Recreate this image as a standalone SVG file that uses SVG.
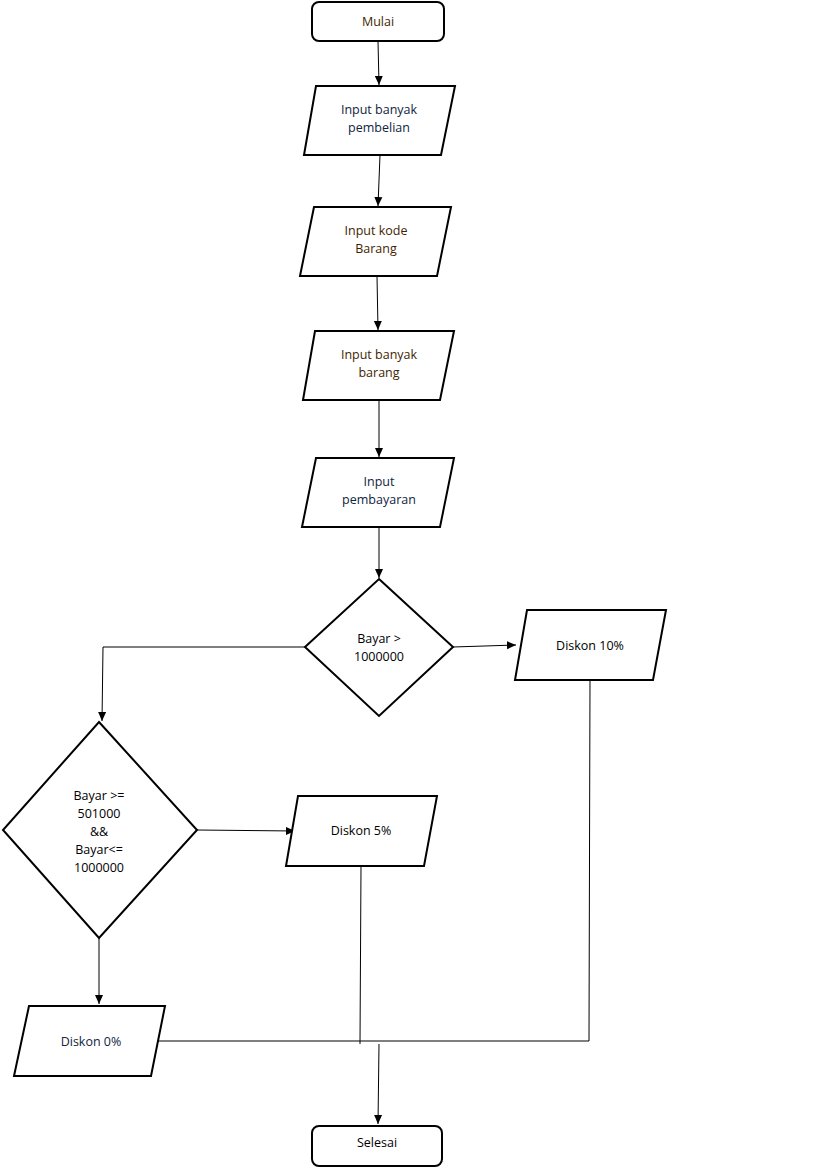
<svg xmlns="http://www.w3.org/2000/svg" width="819" height="1167" viewBox="0 0 819 1167">
<style>
.s{fill:#fff;stroke:#000;stroke-width:2}
.c{fill:none;stroke:#000;stroke-width:1}
text{font-family:"Open Sans","DejaVu Sans",sans-serif;font-size:12.5px;text-anchor:middle}
.b{fill:#0f243e}.r{fill:#3f1f00}.k{fill:#000}
</style>
<defs><marker id="a" markerWidth="10" markerHeight="10" refX="9" refY="5" orient="auto" markerUnits="userSpaceOnUse"><path d="M0,1 L9,5 L0,9 Z" fill="#000"/></marker></defs>
<rect width="819" height="1167" fill="#fff"/>
<g id="connectors">
<path class="c" d="M378,41 L379,85" marker-end="url(#a)"/>
<path class="c" d="M380,155 L378,206" marker-end="url(#a)"/>
<path class="c" d="M377,276 L378,330" marker-end="url(#a)"/>
<path class="c" d="M379,400 L379,457" marker-end="url(#a)"/>
<path class="c" d="M379,527 L379,578" marker-end="url(#a)"/>
<path class="c" d="M453,647 L516,645" marker-end="url(#a)"/>
<path class="c" d="M305,647 L103,647 L102,721" marker-end="url(#a)"/>
<path class="c" d="M197,830 L295,831" marker-end="url(#a)"/>
<path class="c" d="M99,938 L99,1004" marker-end="url(#a)"/>
<path class="c" d="M159,1041 L589,1041 L590,680"/>
<path class="c" d="M361,866 L360,1044"/>
<path class="c" d="M379,1044 L378,1124" marker-end="url(#a)"/>
</g>
<g id="mulai"><rect class="s" x="312" y="2" width="132" height="39" rx="7"/><text class="r" x="378" y="26">Mulai</text></g>
<g id="p1"><polygon class="s" points="316,86 455,86 441,155 304,155"/><text class="b" x="379" y="114">Input banyak</text><text class="b" x="379" y="132">pembelian</text></g>
<g id="p2"><polygon class="s" points="314,207 451,207 437,276 300,276"/><text class="r" x="376" y="235">Input kode</text><text class="r" x="376" y="253">Barang</text></g>
<g id="p3"><polygon class="s" points="315,331 454,331 440,400 303,400"/><text class="r" x="379" y="359">Input banyak</text><text class="r" x="379" y="377">barang</text></g>
<g id="p4"><polygon class="s" points="316,458 454,458 440,527 302,527"/><text class="b" x="379" y="486">Input</text><text class="b" x="379" y="504">pembayaran</text></g>
<g id="d1"><polygon class="s" points="379,579 453,647 379,716 305,647"/><text class="k" x="379" y="643">Bayar &gt;</text><text class="k" x="379" y="661">1000000</text></g>
<g id="diskon10"><polygon class="s" points="527,610 666,610 653,680 515,680"/><text class="k" x="590" y="650">Diskon 10%</text></g>
<g id="d2"><polygon class="s" points="99,722 197,830 99,938 3,830"/><text class="k" x="99" y="800">Bayar &gt;=</text><text class="k" x="99" y="818">501000</text><text class="k" x="99" y="836">&amp;&amp;</text><text class="k" x="99" y="854">Bayar&lt;=</text><text class="k" x="99" y="872">1000000</text></g>
<g id="diskon5"><polygon class="s" points="298,796 437,796 424,866 286,866"/><text class="k" x="361" y="835">Diskon 5%</text></g>
<g id="diskon0"><polygon class="s" points="29,1006 165,1006 151,1076 14,1076"/><text class="b" x="91" y="1046">Diskon 0%</text></g>
<g id="selesai"><rect class="s" x="312" y="1126" width="130" height="40" rx="7"/><text class="k" x="377" y="1147">Selesai</text></g>
</svg>
